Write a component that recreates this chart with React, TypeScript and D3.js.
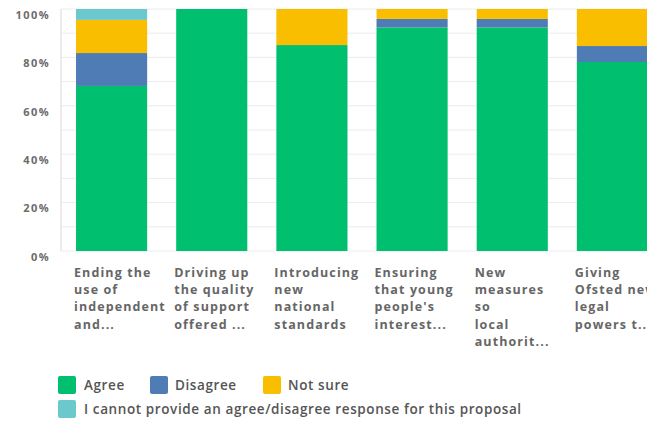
import React from "react";
import * as d3 from "d3";

const categories = [
  ["Ending the", "use of", "independent", "and..."],
  ["Driving up", "the quality", "of support", "offered ..."],
  ["Introducing", "new", "national", "standards"],
  ["Ensuring", "that young", "people's", "interest..."],
  ["New", "measures", "so", "local", "authorit..."],
  ["Giving", "Ofsted new", "legal", "powers t..."],
];
const seriesNames = ["Agree", "Disagree", "Not sure", "I cannot provide an agree/disagree response for this proposal"];
const agree = [68.2, 100, 85.1, 92.4, 92.4, 78.1];
const disagree = [13.6, 0, 0, 3.5, 3.5, 6.6];
const notSure = [13.7, 0, 14.9, 4.1, 4.1, 15.3];
const cannot = [4.5, 0, 0, 0, 0, 0];
const yTicks = [0, 20, 40, 60, 80, 100];
const colors = ["#00bf6f", "#507cb6", "#f9be00", "#6bc8cd"];

export default function App() {
  const W = 647, H = 423;
  const x = d3.scaleBand<number>()
    .domain(categories.map((_, i) => i))
    .range([61, 663])
    .paddingInner(0.29)
    .paddingOuter(0.15);
  const y = d3.scaleLinear().domain([0, 100]).range([251, 9]);
  const rows = categories.map((_, i) => ({ i, v: [agree[i], disagree[i], notSure[i], cannot[i]] }));
  const stack = d3.stack<any>().keys([0, 1, 2, 3] as any).value((d: any, k: any) => d.v[k]);
  const stacked = stack(rows as any);
  const grid = d3.range(0, 101, 10);
  const font = "'Open Sans', sans-serif";
  return (
    <svg width={W} height={H} style={{ position: "absolute", left: 0, top: 0, background: "#fff" }}>
      {grid.map((g) => (
        <line key={g} x1={61} x2={W} y1={y(g)} y2={y(g)} stroke="#ececec" strokeWidth={1} />
      ))}
      <line x1={61} x2={61} y1={y(100)} y2={y(0)} stroke="#d9d9d9" />
      {stacked.map((s, k) => (
        <g key={k} fill={colors[k]}>
          {s.map((d: any, i: number) => (
            d[1] - d[0] > 0 ? (
              <rect key={i} x={x(i)!} width={x.bandwidth()} y={y(d[1])} height={y(d[0]) - y(d[1])} />
            ) : null
          ))}
        </g>
      ))}
      {yTicks.map((t) => (
        <text key={t} x={50} y={y(t) + 6} dy="0.35em" textAnchor="end" fontFamily={font}
          fontWeight={700} fontSize={11} letterSpacing={1.4} fill="#6b6b6b">{t}%</text>
      ))}
      {categories.map((lines, i) => (
        <text key={i} fontFamily={font} fontWeight={700} fontSize={12.5} letterSpacing={1.1} fill="#666">
          {lines.map((l, j) => (
            <tspan key={j} x={x(i)! - 2} y={277 + j * 17.2}>{l}</tspan>
          ))}
        </text>
      ))}
      {[
        { n: 0, sx: 58, sy: 376, tx: 84 },
        { n: 1, sx: 150, sy: 376, tx: 175 },
        { n: 2, sx: 263, sy: 376, tx: 288 },
        { n: 3, sx: 58, sy: 400, tx: 84 },
      ].map((it) => (
        <g key={it.n}>
          <rect x={it.sx} y={it.sy} width={18} height={18} rx={2} fill={colors[it.n]} />
          <text x={it.tx} y={it.sy + 9} dy="0.35em" fontFamily={font} fontWeight={600}
            fontSize={13.5} letterSpacing={0.6} fill="#555">{seriesNames[it.n]}</text>
        </g>
      ))}
    </svg>
  );
}
